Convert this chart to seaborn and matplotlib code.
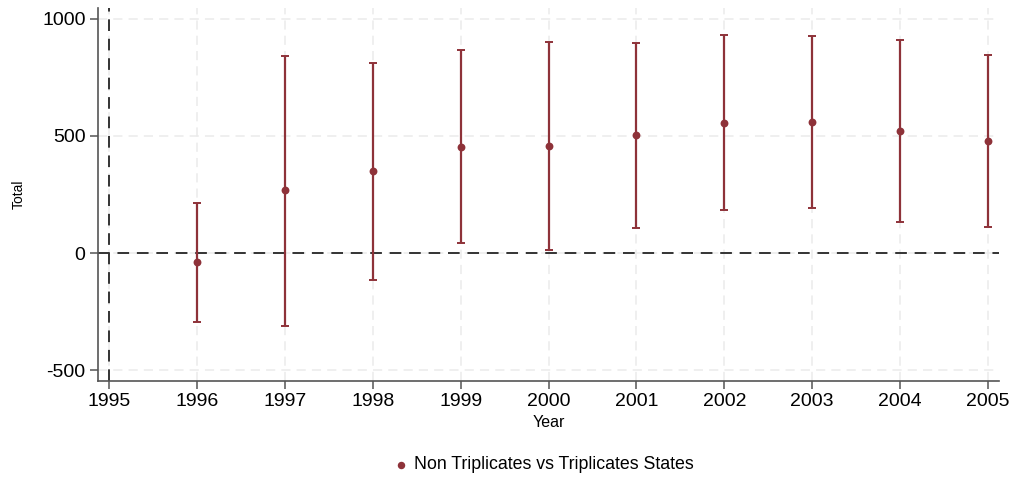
import numpy as np
import pandas as pd
import matplotlib
matplotlib.use("Agg")
import matplotlib.pyplot as plt
import seaborn as sns

years = [1996, 1997, 1998, 1999, 2000, 2001, 2002, 2003, 2004, 2005]
estimate = [-38, 269, 350, 453, 457, 503, 556, 560, 521, 477]
ci_low = [-295, -312, -115, 43, 13, 107, 182, 194, 134, 110]
ci_high = [214, 842, 812, 868, 902, 897, 930, 927, 910, 845]
series_label = "Non Triplicates vs Triplicates States"

df = pd.DataFrame({"Year": years, "Total": estimate, "lo": ci_low, "hi": ci_high})

sns.set_style("white")
plt.rcParams['font.family'] = ['Liberation Sans', 'DejaVu Sans']
plt.rcParams['axes.unicode_minus'] = False

color = "#8e3239"

fig = plt.figure(figsize=(10.16, 4.79), dpi=100)
ax = fig.add_axes([98 / 1016, 1 - 381 / 479, (999 - 98) / 1016, (381 - 8) / 479])

# confidence intervals
ax.errorbar(df["Year"], df["Total"],
            yerr=[df["Total"] - df["lo"], df["hi"] - df["Total"]],
            fmt="none", ecolor=color, elinewidth=1.6, capsize=2.6, capthick=1.4, zorder=3)

sns.scatterplot(data=df, x="Year", y="Total", color=color, s=32,
                edgecolor=color, linewidth=0, ax=ax, zorder=4, label=series_label)

# reference lines
ax.axhline(0, color="#333333", linestyle=(0, (6, 4)), linewidth=1.4, zorder=2)
ax.axvline(1995, color="#333333", linestyle=(0, (6, 4)), linewidth=1.4, zorder=2)

ax.set_xlim(1994.875, 2005.125)
ax.set_ylim(-547, 1047)
ax.set_xticks(range(1995, 2006))
ax.set_yticks([-500, 0, 500, 1000])
ax.grid(True, color="#ebebeb", linestyle=(0, (6, 4)), linewidth=1.1)
ax.set_axisbelow(True)

for s in ["top", "right"]:
    ax.spines[s].set_visible(False)
for s in ["left", "bottom"]:
    ax.spines[s].set_color("#555555")
    ax.spines[s].set_linewidth(1.2)
ax.tick_params(axis="both", direction="out", length=6, width=1.1, color="#555555",
               labelsize=14, labelcolor="black", pad=3, left=True, bottom=True)

ax.set_xlabel("Year", fontsize=11.5, labelpad=3, color="black")
ax.set_ylabel("Total", fontsize=10, labelpad=12, color="black")

leg = ax.legend(loc="center", bbox_to_anchor=(0.494, -0.225), frameon=False,
                fontsize=12.8, handlelength=1.0, handletextpad=0.2, markerscale=0.95)
for t in leg.get_texts():
    t.set_color("black")

fig.savefig("out.png", dpi=100)
